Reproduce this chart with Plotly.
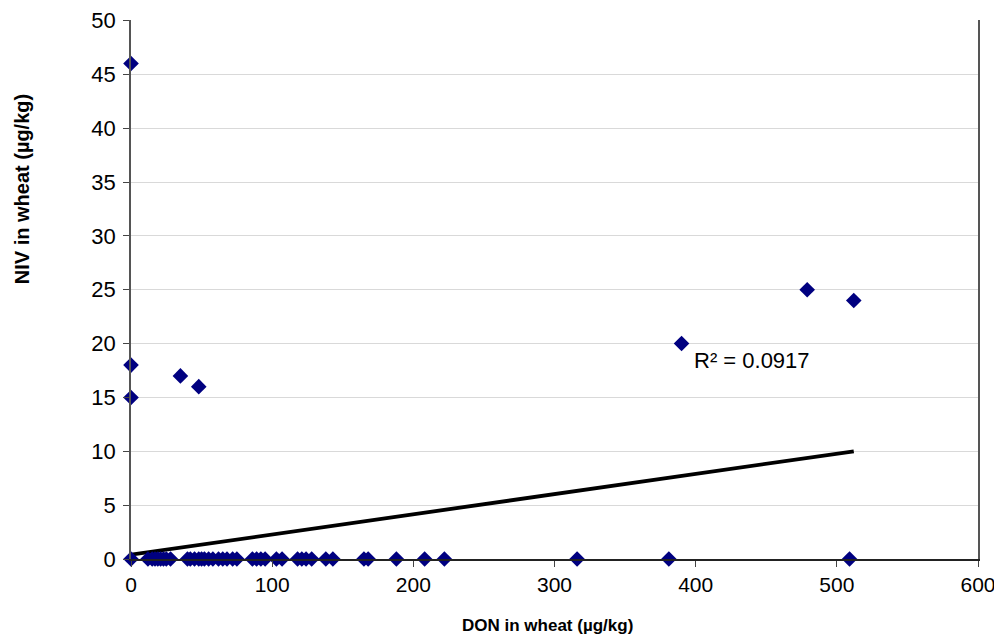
import plotly.graph_objects as go

# DON (x) and NIV (y) in wheat, µg/kg
don_nonzero = [0, 0, 0, 35, 48, 390, 479, 512]
niv_nonzero = [46, 18, 15, 17, 16, 20, 25, 24]

don_zero = [0, 12, 15, 17, 19, 21, 23, 25, 28, 40, 42, 45, 48, 50, 52, 55, 58, 62, 65,
            68, 72, 75, 86, 89, 92, 95, 103, 107, 118, 121, 124, 128, 138, 143,
            165, 168, 188, 208, 222, 316, 381, 509]
niv_zero = [0] * len(don_zero)

don = don_nonzero + don_zero
niv = niv_nonzero + niv_zero

# Linear trendline as drawn
trend_x = [0, 512]
trend_y = [0.4, 10.0]
r2_label = "R² = 0.0917"

x_ticks = [0, 100, 200, 300, 400, 500, 600]
y_ticks = [0, 5, 10, 15, 20, 25, 30, 35, 40, 45, 50]

x_title = "<b>DON in wheat (µg/kg)</b>"
y_title = "<b>NIV in wheat (µg/kg)</b>"

font = "Liberation Sans, Arial, sans-serif"

fig = go.Figure()
fig.add_trace(go.Scatter(
    x=trend_x, y=trend_y, mode="lines",
    line=dict(color="black", width=3.8), showlegend=False, hoverinfo="skip"))
fig.add_trace(go.Scatter(
    x=don, y=niv, mode="markers",
    marker=dict(symbol="diamond", size=12, color="#000080"),
    showlegend=False, cliponaxis=False))

fig.add_annotation(x=390, y=20, text=r2_label, showarrow=False,
                   xanchor="left", yanchor="top", xshift=10, yshift=-2,
                   font=dict(family=font, size=22, color="black"))

# Axis titles placed as in the original
fig.add_annotation(xref="paper", yref="paper", x=0.492, y=0, yshift=-66,
                   xanchor="center", yanchor="middle", showarrow=False,
                   text=x_title, font=dict(family=font, size=17, color="black"))
fig.add_annotation(xref="paper", yref="paper", x=0, y=0.686, xshift=-109,
                   xanchor="center", yanchor="middle", showarrow=False, textangle=-90,
                   text=y_title, font=dict(family=font, size=20, color="black"))

fig.update_layout(
    width=994, height=631,
    margin=dict(l=123, r=24, t=12, b=80, autoexpand=False),
    paper_bgcolor="white", plot_bgcolor="white",
    font=dict(family=font, size=22, color="black"),
)
fig.update_xaxes(
    range=[0, 600], tickvals=x_ticks, showgrid=False, zeroline=False,
    showline=True, linecolor="#222222", linewidth=1.5, automargin=False,
    ticks="outside", ticklen=6, tickcolor="#444444",
    tickfont=dict(size=21),
)
fig.update_yaxes(
    range=[0, 50.04], tickvals=y_ticks, showgrid=True, gridcolor="#d9d9d9", gridwidth=1,
    zeroline=False, showline=True, linecolor="#555555", linewidth=1.5, mirror=True,
    automargin=False,
    ticks="outside", ticklen=6, tickcolor="#444444",
    tickfont=dict(size=22), ticklabelstandoff=3, ticklabeloverflow="allow",
)

fig.write_html("out.html")
